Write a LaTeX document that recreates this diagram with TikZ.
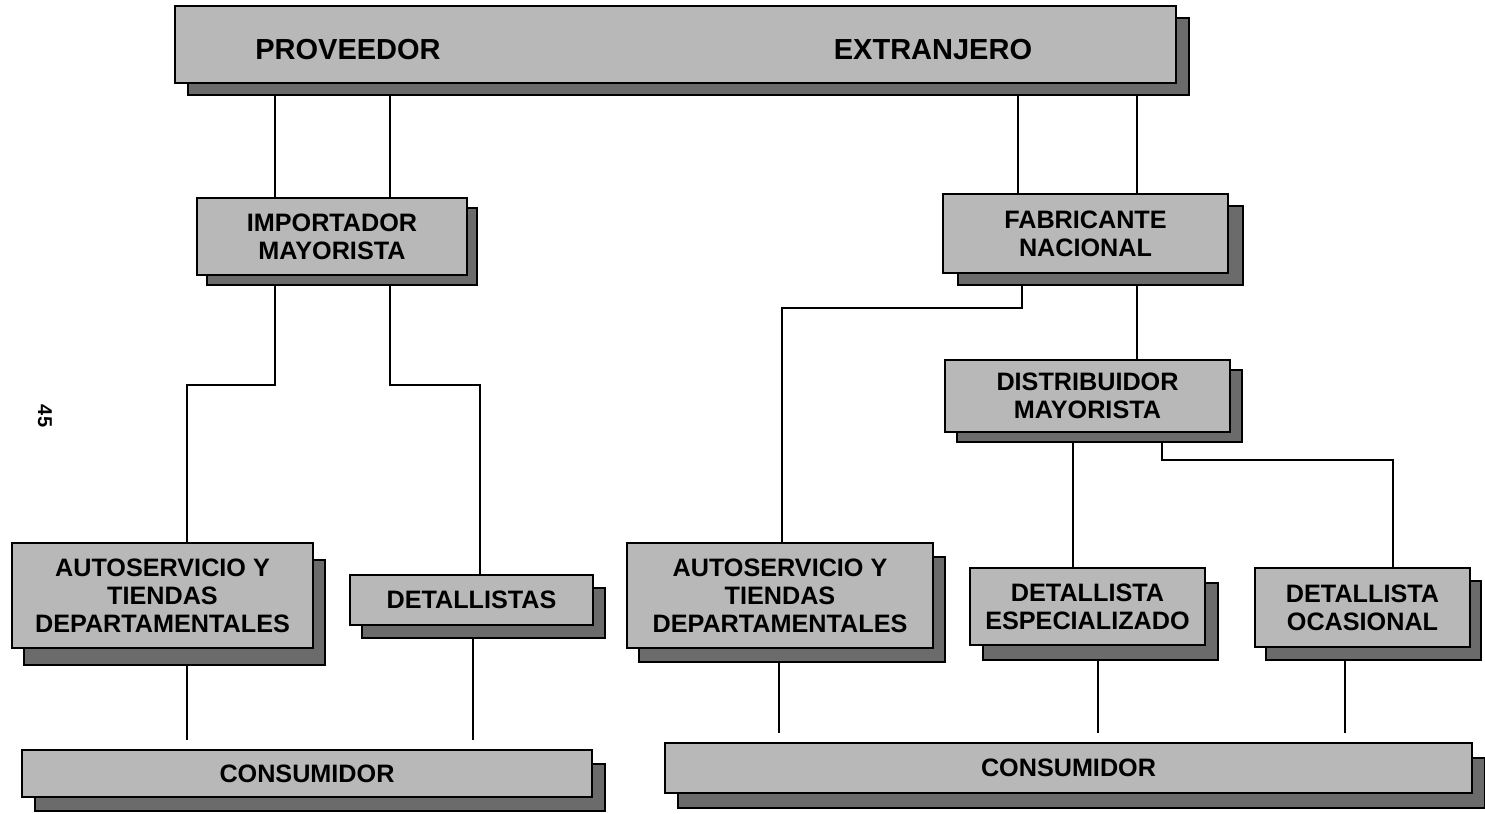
\documentclass[tikz,border=0pt]{standalone}
\usepackage{fontspec}
\setmainfont{Liberation Sans}
\usetikzlibrary{shadows,backgrounds}
\newcommand\lblfont{\bfseries\fontsize{12.6}{14}\selectfont}
\newcommand\topfont{\bfseries\fontsize{14.5}{17}\selectfont}
\begin{document}
\begin{tikzpicture}[x=0.5pt,y=-0.5pt,
  box/.style 2 args={draw=black, line width=1.2pt, fill=black!28, inner sep=0pt,
    align=center, font=\lblfont,
    general shadow={shadow xshift=#1, shadow yshift=-#2, fill=black!58, draw=black, line width=1.2pt}},
  lbl/.style={inner sep=0pt, font=\topfont},
  conn/.style={draw=black, line width=1.1pt},
  pagenum/.style={inner sep=0pt, font=\bfseries\fontsize{10}{12}\selectfont, rotate=-90}
]
\useasboundingbox (0,0) rectangle (1485,814);

% boxes
\node[box={6.5pt}{6pt}, minimum width=500.5pt, minimum height=38.5pt] (top) at (675.5,44.5) {};
\node[lbl] (tp1) at (348,50) {PROVEEDOR};
\node[lbl] (tp2) at (933,50) {EXTRANJERO};

\node[box={5pt}{5pt}, minimum width=135pt, minimum height=38.5pt] (imp) at (332,236.5) {IMPORTADOR\\MAYORISTA};
\node[box={7.5pt}{6pt}, minimum width=142.5pt, minimum height=39.5pt] (fab) at (1085.5,233.5) {FABRICANTE\\NACIONAL};
\node[box={6pt}{5pt}, minimum width=142.5pt, minimum height=36pt] (dist) at (1087.5,396) {DISTRIBUIDOR\\MAYORISTA};

\node[box={6pt}{8.5pt}, minimum width=150.5pt, minimum height=52.5pt] (autoL) at (162.5,595.5) {AUTOSERVICIO Y\\TIENDAS\\DEPARTAMENTALES};
\node[box={6pt}{6.5pt}, minimum width=121.5pt, minimum height=25pt] (detL) at (471.5,600) {DETALLISTAS};
\node[box={6pt}{7pt}, minimum width=153pt, minimum height=52.5pt] (autoR) at (780,595.5) {AUTOSERVICIO Y\\TIENDAS\\DEPARTAMENTALES};
\node[box={6.5pt}{7.5pt}, minimum width=117.5pt, minimum height=38.5pt] (esp) at (1087.5,606.5) {DETALLISTA\\ESPECIALIZADO};
\node[box={5.5pt}{6.5pt}, minimum width=107.5pt, minimum height=39.5pt] (oca) at (1362.5,607.5) {DETALLISTA\\OCASIONAL};

\node[box={6.5pt}{7pt}, minimum width=285pt, minimum height=23.5pt] (consL) at (307,773.5) {CONSUMIDOR};
\node[box={6.5pt}{7.5pt}, minimum width=403.5pt, minimum height=25pt] (consR) at (1068.5,768) {CONSUMIDOR};

\node[pagenum] (pg) at (45,416) {45};

% connectors
\begin{scope}[on background layer]
\draw[conn] (top.south -| 275,0) -- (imp.north -| 275,0);
\draw[conn] (top.south -| 390,0) -- (imp.north -| 390,0);
\draw[conn] (top.south -| 1018,0) -- (fab.north -| 1018,0);
\draw[conn] (top.south -| 1137,0) -- (fab.north -| 1137,0);

\draw[conn] (imp.south -| 275,0) -- (275,385) -- (187,385) -- (autoL.north -| 187,0);
\draw[conn] (imp.south -| 390,0) -- (390,385) -- (480,385) -- (detL.north -| 480,0);

\draw[conn] (fab.south -| 1022,0) -- (1022,308) -- (782,308) -- (autoR.north -| 782,0);
\draw[conn] (fab.south -| 1137,0) -- (dist.north -| 1137,0);

\draw[conn] (dist.south -| 1073,0) -- (esp.north -| 1073,0);
\draw[conn] (dist.south -| 1162,0) -- (1162,460) -- (1393,460) -- (oca.north -| 1393,0);

\draw[conn, shorten >=4.5pt] (autoL.south -| 187,0) -- (consL.north -| 187,0);
\draw[conn, shorten >=4.5pt] (detL.south -| 473,0) -- (consL.north -| 473,0);
\draw[conn, shorten >=4.5pt] (autoR.south -| 779,0) -- (consR.north -| 779,0);
\draw[conn, shorten >=4.5pt] (esp.south -| 1098,0) -- (consR.north -| 1098,0);
\draw[conn, shorten >=4.5pt] (oca.south -| 1345,0) -- (consR.north -| 1345,0);
\end{scope}
\end{tikzpicture}
\end{document}
